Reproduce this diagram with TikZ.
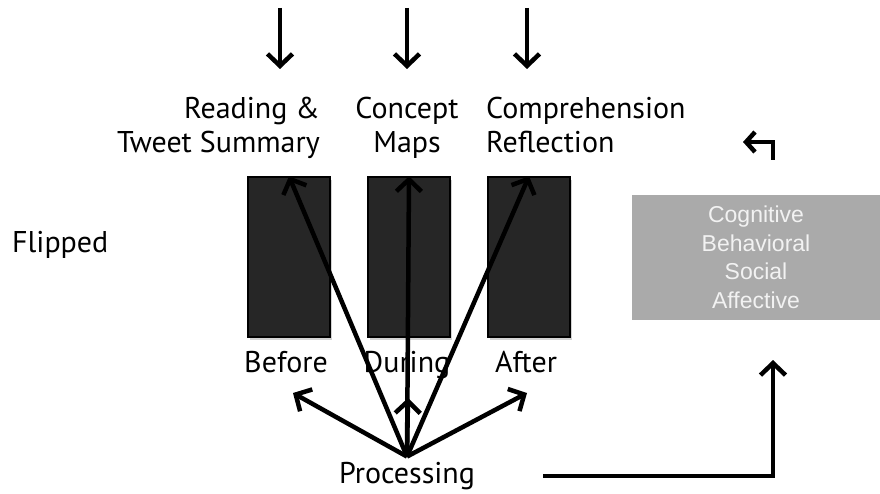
\documentclass[tikz,border=0pt]{standalone}
\usepackage{fontspec}
\newfontfamily\labelfont{PT Sans}
\newfontfamily\panelfont{Liberation Sans}
\usetikzlibrary{arrows.meta,shadows,positioning}
\definecolor{phasefill}{HTML}{262626}
\definecolor{panelgray}{HTML}{AAAAAA}
\definecolor{paneltext}{HTML}{F2F2F2}
\tikzset{
  lbl/.style={inner sep=0pt,font=\labelfont\fontsize{30}{34}\selectfont},
  phase/.style={draw=black,line width=1.5pt,fill=phasefill,inner sep=0pt,
    minimum width=82,minimum height=160,
    drop shadow={opacity=0.35,shadow xshift=2pt,shadow yshift=-3pt}},
  panel/.style={fill=panelgray,text=paneltext,align=center,inner sep=0pt,
    minimum width=248,minimum height=125,
    font=\panelfont\fontsize{23}{28.5}\selectfont},
  arr/.style={line width=4.5pt,-{Straight Barb[length=12pt,width=25pt]}},
}
\begin{document}
\begin{tikzpicture}[x=1pt,y=-1pt]
\useasboundingbox (0,0) rectangle (880,494);

% activities
\node[lbl,align=right,anchor=north east] (read) at (320,97) {Reading \&\\Tweet Summary};
\node[lbl,align=center,anchor=north] (maps) at (407,97) {Concept\\Maps};
\node[lbl,align=left,anchor=north west] (refl) at (486,97) {Comprehension\\Reflection};

\foreach \x [count=\i] in {280,407,527} {
  \coordinate (in\i) at (\x,8);
  \coordinate (out\i) at (\x,69);
  \draw[arr] (in\i) -- (out\i);
}

% phases
\node[phase] (before) at (289,257) {};
\node[phase] (during) at (409,257) {};
\node[phase] (after) at (529,257) {};

\node[lbl,anchor=base] (lbefore) at (286,372) {Before};
\node[lbl,anchor=base] (lduring) at (407,372) {During};
\node[lbl,anchor=base] (lafter) at (526,372) {After};

\node[lbl,anchor=base west] (flip) at (12,253) {Flipped};

% engagement
\node[panel] (engage) at (756,257.5) {Cognitive\\Behavioral\\Social\\Affective};

\node[lbl,anchor=base] (proc) at (407,483) {Processing};
\coordinate (hub) at ([yshift=5pt]proc.north);

\coordinate (tbefore) at (293,393);
\coordinate (tduring) at (408,398);
\coordinate (tafter) at (527,393);

\draw[arr] (hub) -- (before.north);
\draw[arr] (hub) -- (during.north);
\draw[arr] (hub) -- (after.north);
\draw[arr] (hub) -- (tbefore);
\draw[arr] (hub) -- (tduring);
\draw[arr] (hub) -- (tafter);

% feedback
\coordinate (fstart) at (543,476);
\coordinate (fcorner) at (773,476);
\coordinate (fend) at (773,360);
\draw[arr,line join=miter] (fstart) -- (fcorner) -- (fend);

\coordinate (bstart) at (773,160);
\coordinate (bcorner) at (773,142);
\coordinate (bend) at (743,142);
\draw[line width=4.5pt,line join=miter,-{Straight Barb[length=9pt,width=20pt]}] (bstart) -- (bcorner) -- (bend);
\end{tikzpicture}
\end{document}
